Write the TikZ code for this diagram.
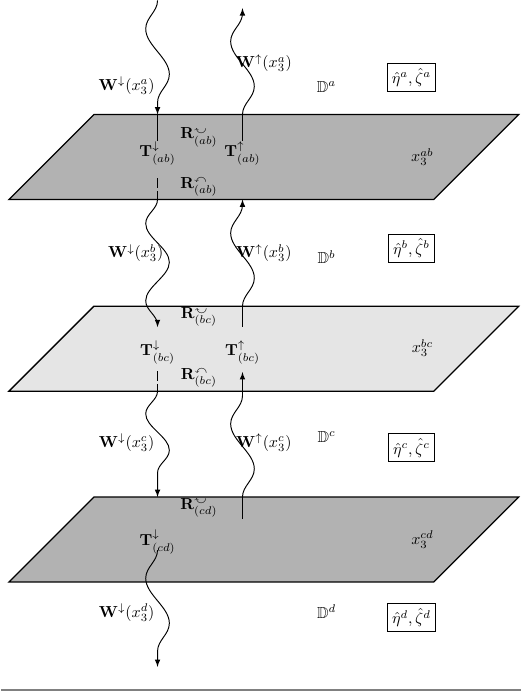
\documentclass[tikz,border=0pt]{standalone}
\usepackage{amsmath,amssymb}
\usepackage{tikz}
\usetikzlibrary{decorations.pathmorphing}
\usetikzlibrary{arrows.meta}
\newcommand{\reflU}{\scalebox{1}[-1]{$\scriptstyle\curvearrowleft$}}
\newcommand{\reflD}{\curvearrowleft}
\tikzset{
    planed/.style = {thick, draw=black, fill=gray!60},
    planel/.style = {thick, draw=black, fill=gray!20},
    mylabel/.style = {align=center, text=black},
    mybox/.style = {draw=black, semithick, inner sep=3pt},
    edgen/.style = {-, semithick, black},
    edged/.style = {-, semithick, black, dash pattern=on 6pt off 2pt},
    edgew/.style = {-latex, semithick, black, decorate, decoration={snake, mirror, amplitude=2.6mm, segment length=19.8mm}},
    edgerule/.style = {-, line width=1pt, gray}
}

\begin{document}
\begin{tikzpicture}[scale=1.00]
% layers
\filldraw[planed] (0.18,10.93) -- (2.05,12.80) -- (11.40,12.80) -- (9.53,10.93) -- cycle;
\filldraw[planel] (0.18,6.71) -- (2.05,8.58) -- (11.40,8.58) -- (9.53,6.71) -- cycle;
\filldraw[planed] (0.18,2.51) -- (2.05,4.38) -- (11.40,4.38) -- (9.53,2.51) -- cycle;
%
\coordinate (la0) at (3.45,15.31);
\coordinate (lab1) at (3.45,12.80);
\coordinate (lab2) at (3.45,12.21);
\coordinate (lab3) at (3.45,11.40);
\coordinate (lab4) at (3.45,10.93);
\coordinate (lbc1) at (3.45,8.12);
\coordinate (lbc3) at (3.45,7.15);
\coordinate (lbc4) at (3.45,6.71);
\coordinate (lcd1) at (3.45,4.38);
\coordinate (lcd3) at (3.45,3.21);
\coordinate (ld) at (3.45,0.64);
\coordinate (ra0) at (5.32,15.14);
\coordinate (rab1) at (5.32,12.80);
\coordinate (rab2) at (5.32,12.21);
\coordinate (rab4) at (5.32,10.93);
\coordinate (rbc1) at (5.32,8.58);
\coordinate (rbc2) at (5.32,8.12);
\coordinate (rbc3) at (5.32,7.13);
\coordinate (rcd1) at (5.32,4.38);
\coordinate (rcd2) at (5.32,3.89);
\coordinate (rule1) at (0,0.13);
\coordinate (rule2) at (11.46,0.13);
%
\draw[edgew, decoration={segment length=20mm}] (la0) -- (lab1);
\draw[edgew] (rab1) -- (ra0);
\draw[edgew, decoration={segment length=17mm}] (lab4) -- (lbc1);
\draw[edgew] (rbc1) -- (rab4);
\draw[edgew, decoration={segment length=16mm}] (lbc4) -- (lcd1);
\draw[edgew] (rcd1) -- (rbc3);
\draw[edgew] (lcd3) -- (ld);
%
\draw[edgen] (lab1) -- (lab2);
\draw[edgen] (rab1) -- (rab2);
\draw[edged] (lab3) -- (lab4);
\draw[edgen] (rbc1) -- (rbc2);
\draw[edged] (lbc3) -- (lbc4);
\draw[edgen] (rcd1) -- (rcd2);
%
\node[mylabel] at (2.77,13.44) (Wda) {$\mathbf{W}^{\downarrow}(x_3^{a})$};
\node[mylabel] at (5.79,13.93) (Wua) {$\mathbf{W}^{\uparrow}(x_3^{a})$};
\node[mylabel] at (7.17,13.40) (Da) {$\mathbb{D}^{a}$};
\node[mybox] at (9.04,13.62) (Ea) {$\hat{\eta}^{a},\hat{\zeta}^{a}$};
\node[mylabel] at (4.36,12.30) (Rtab) {$\mathbf{R}^{\reflU}_{(ab)}$};
\node[mylabel] at (3.45,11.95) (Tdab) {$\mathbf{T}^{\downarrow}_{(ab)}$};
\node[mylabel] at (5.32,11.95) (Tuab) {$\mathbf{T}^{\uparrow}_{(ab)}$};
\node[mylabel] at (4.36,11.20) (Rbab) {$\mathbf{R}^{\reflD}_{(ab)}$};
\node[mylabel] at (9.28,11.86) (Xab) {$x_3^{ab}$};
%
\node[mylabel] at (2.97,9.75) (Wdb) {$\mathbf{W}^{\downarrow}(x_3^{b})$};
\node[mylabel] at (5.79,9.75) (Wub) {$\mathbf{W}^{\uparrow}(x_3^{b})$};
\node[mylabel] at (7.17,9.66) (Db) {$\mathbb{D}^{b}$};
\node[mybox] at (9.04,9.86) (Eb) {$\hat{\eta}^{b},\hat{\zeta}^{b}$};
\node[mylabel] at (4.36,8.34) (Rtbc) {$\mathbf{R}^{\reflU}_{(bc)}$};
\node[mylabel] at (3.45,7.57) (Tdbc) {$\mathbf{T}^{\downarrow}_{(bc)}$};
\node[mylabel] at (5.32,7.57) (Tubc) {$\mathbf{T}^{\uparrow}_{(bc)}$};
\node[mylabel] at (4.36,7.00) (Rbbc) {$\mathbf{R}^{\reflD}_{(bc)}$};
\node[mylabel] at (9.28,7.66) (Xbc) {$x_3^{bc}$};
%
\node[mylabel] at (2.77,5.57) (Wdc) {$\mathbf{W}^{\downarrow}(x_3^{c})$};
\node[mylabel] at (5.79,5.57) (Wuc) {$\mathbf{W}^{\uparrow}(x_3^{c})$};
\node[mylabel] at (7.17,5.70) (Dc) {$\mathbb{D}^{c}$};
\node[mybox] at (9.04,5.46) (Ec) {$\hat{\eta}^{c},\hat{\zeta}^{c}$};
\node[mylabel] at (4.36,4.14) (Rtcd) {$\mathbf{R}^{\reflU}_{(cd)}$};
\node[mylabel] at (3.45,3.39) (Tdcd) {$\mathbf{T}^{\downarrow}_{(cd)}$};
\node[mylabel] at (9.28,3.45) (Xcd) {$x_3^{cd}$};
%
\node[mylabel] at (2.77,1.83) (Wdd) {$\mathbf{W}^{\downarrow}(x_3^{d})$};
\node[mylabel] at (7.17,1.85) (Dd) {$\mathbb{D}^{d}$};
\node[mybox] at (9.04,1.72) (Ed) {$\hat{\eta}^{d},\hat{\zeta}^{d}$};
%
\draw[edgerule] (rule1) -- (rule2);

\path[use as bounding box] (0,0) rectangle (11.46,15.31);

\end{tikzpicture}
\end{document}
